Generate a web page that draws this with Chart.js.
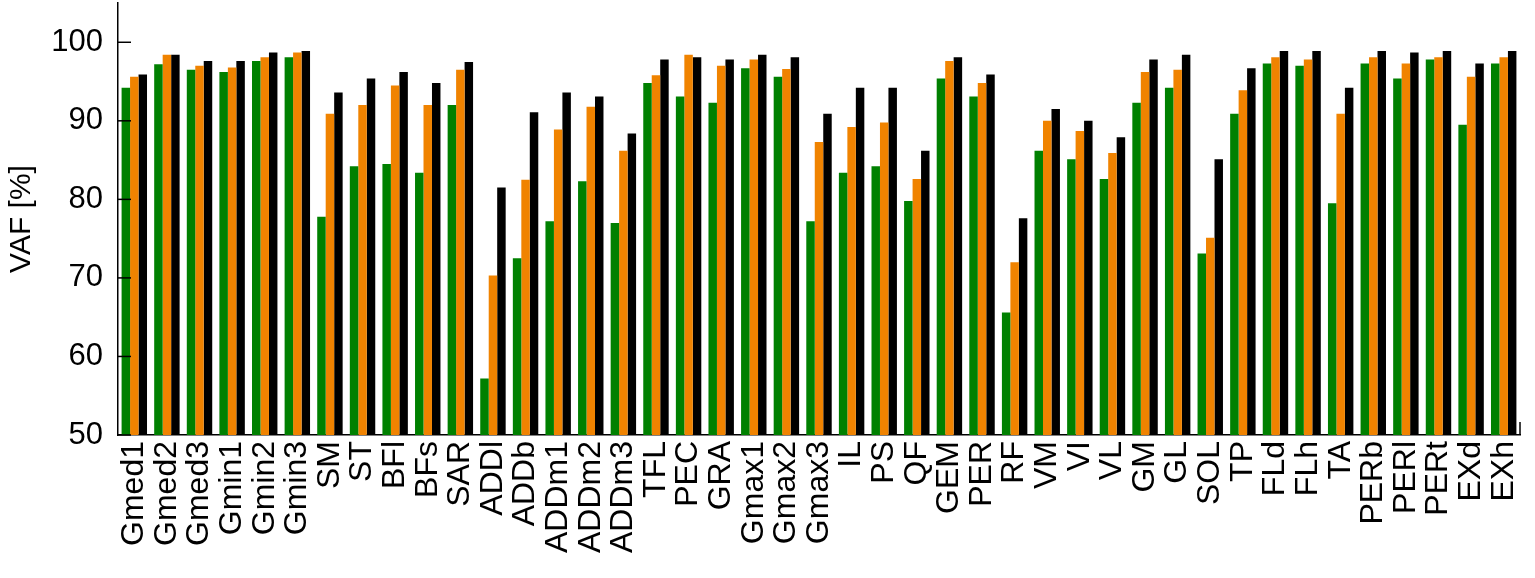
<!DOCTYPE html>
<html>
<head>
<meta charset="utf-8">
<script src="https://cdn.jsdelivr.net/npm/chart.js@4"></script>
<style>
  html, body { margin: 0; padding: 0; background: #fff; }
  #wrap { width: 1535px; height: 578px; }
</style>
</head>
<body>
<div id="wrap"><canvas id="vafChart" width="1535" height="578"></canvas></div>
<script>
const muscles = ["Gmed1", "Gmed2", "Gmed3", "Gmin1", "Gmin2", "Gmin3", "SM", "ST", "BFl", "BFs", "SAR",
  "ADDl", "ADDb", "ADDm1", "ADDm2", "ADDm3", "TFL", "PEC", "GRA", "Gmax1", "Gmax2", "Gmax3",
  "IL", "PS", "QF", "GEM", "PER", "RF", "VM", "VI", "VL", "GM", "GL", "SOL", "TP", "FLd", "FLh",
  "TA", "PERb", "PERl", "PERt", "EXd", "EXh"];

const vafGreen = [94.2, 97.2, 96.5, 96.2, 97.6, 98.1, 77.8, 84.2, 84.5, 83.4, 92.0,
  57.2, 72.5, 77.2, 82.3, 77.0, 94.8, 93.1, 92.3, 96.7, 95.6, 77.2,
  83.4, 84.2, 79.8, 95.4, 93.1, 65.6, 86.2, 85.1, 82.6, 92.3, 94.2, 73.1, 90.9, 97.3, 97.0,
  79.5, 97.3, 95.4, 97.8, 89.5, 97.3];

const vafOrange = [95.6, 98.4, 97.0, 96.8, 98.1, 98.7, 90.9, 92.0, 94.5, 92.0, 96.5,
  70.3, 82.5, 88.9, 91.8, 86.2, 95.8, 98.4, 97.0, 97.8, 96.6, 87.3,
  89.2, 89.8, 82.6, 97.6, 94.8, 72.0, 90.0, 88.7, 85.9, 96.2, 96.5, 75.1, 93.9, 98.1, 97.8,
  90.9, 98.1, 97.3, 98.1, 95.6, 98.1];

const vafBlack = [95.9, 98.4, 97.6, 97.6, 98.7, 98.9, 93.6, 95.4, 96.2, 94.8, 97.5,
  81.5, 91.1, 93.6, 93.1, 88.4, 97.8, 98.1, 97.8, 98.4, 98.1, 90.9,
  94.2, 94.2, 86.2, 98.1, 95.9, 77.6, 91.5, 90.0, 87.9, 97.8, 98.4, 85.1, 96.7, 98.9, 98.9,
  94.2, 98.9, 98.7, 98.9, 97.3, 98.9];

const yMin = 50, yMax = 105, yStep = 10;

// MATLAB-style inward ticks on the y axis and small end mark on the x axis
const inwardTicks = {
  id: "inwardTicks",
  afterDraw(chart) {
    const c = chart.ctx, a = chart.chartArea, y = chart.scales.y;
    c.save();
    c.strokeStyle = "#000";
    c.lineWidth = 1.5;
    y.ticks.forEach(t => {
      const py = y.getPixelForValue(t.value);
      c.beginPath();
      c.moveTo(a.left, py);
      c.lineTo(a.left + 13, py);
      c.stroke();
    });
    c.beginPath();
    c.moveTo(a.right, a.bottom);
    c.lineTo(a.right, a.bottom - 13);
    c.stroke();
    c.restore();
  }
};

new Chart(document.getElementById("vafChart").getContext("2d"), {
  type: "bar",
  data: {
    labels: muscles,
    datasets: [
      { label: "green", data: vafGreen, backgroundColor: "#008000" },
      { label: "orange", data: vafOrange, backgroundColor: "#f08300" },
      { label: "black", data: vafBlack, backgroundColor: "#000000" },
    ],
  },
  options: {
    responsive: false,
    animation: false,
    layout: { padding: { left: 0, right: 15, top: 3, bottom: 0 } },
    datasets: { bar: { categoryPercentage: 0.78, barPercentage: 1.0 } },
    plugins: { legend: { display: false }, tooltip: { enabled: false } },
    scales: {
      x: {
        afterFit: s => { s.height = 143; s.paddingLeft = 0; s.paddingRight = 0; },
        grid: { display: false, drawTicks: false },
        border: { color: "#000", width: 1.5 },
        ticks: {
          color: "#000",
          autoSkip: false,
          minRotation: 90,
          maxRotation: 90,
          padding: 6,
          font: { family: "Liberation Sans, Arial", size: 32 },
        },
      },
      y: {
        min: yMin,
        max: yMax,
        afterFit: s => { s.width = 118; s.paddingTop = 0; s.paddingBottom = 0; },
        grid: { display: false, drawTicks: false },
        border: { color: "#000", width: 1.5 },
        ticks: {
          stepSize: yStep,
          includeBounds: false,
          color: "#000",
          padding: 15,
          font: { family: "Liberation Sans, Arial", size: 31 },
        },
        title: {
          display: true,
          text: "VAF [%]",
          color: "#000",
          padding: { top: 4, bottom: 10 },
          font: { family: "Liberation Sans, Arial", size: 30 },
        },
      },
    },
  },
  plugins: [inwardTicks],
});
</script>
</body>
</html>
